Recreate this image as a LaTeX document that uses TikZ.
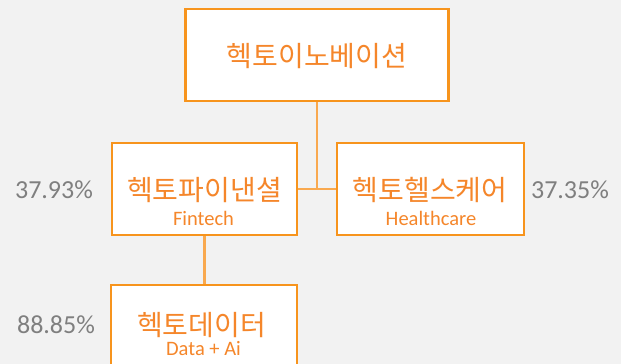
\documentclass[tikz,border=0pt]{standalone}
\usepackage{fontspec}
\setmainfont{Carlito}
\newfontfamily\kofont{Noto Sans CJK KR}
\definecolor{hkline}{HTML}{F7941D}
\definecolor{hklink}{HTML}{F9A94F}
\definecolor{hktext}{HTML}{F5862A}
\definecolor{hkgray}{HTML}{7F7F7F}
\definecolor{hkback}{HTML}{F2F2F2}
\begin{document}
\begin{tikzpicture}[x=1pt,y=-1pt,
    box/.style={draw=hkline,line width=2.6pt,fill=white,minimum width=#1,minimum height=92pt,inner sep=0pt},
    link/.style={draw=hklink,line width=2.2pt},
    kor/.style={anchor=base,text=hktext,font=\kofont\fontsize{28pt}{32pt}\selectfont,inner sep=0pt},
    eng/.style={anchor=base,text=hktext,font=\fontsize{20.5pt}{24pt}\selectfont,inner sep=0pt},
    pct/.style={anchor=base,text=hkgray,font=\fontsize{26pt}{30pt}\selectfont,inner sep=0pt}]
    \fill[hkback] (0,0) rectangle (621,364);
    \clip (0,0) rectangle (621,364);
    %	boxes
    \node[box=263pt] (hinno) at (317,55) {};
    \node[box=185pt] (hfin) at (204.5,189) {};
    \node[box=187pt] (hhealth) at (430.5,189) {};
    \node[box=186pt] (hdata) at (204,331) {};
    \draw[link] (hinno.south) |- (hfin.east);
    \draw[link] (hinno.south) |- (hhealth.west);
    \draw[link] (hfin.south) -- (hfin.south |- hdata.north);
    %	texts
    \node[kor] (hinno-t) at (317,66.5) {헥토이노베이션};
    \node[kor] (hfin-t) at (204.5,200.5) {헥토파이낸셜};
    \node[eng] (hfin-e) at (203.5,225) {Fintech};
    \node[kor] (hhealth-t) at (430,200.5) {헥토헬스케어};
    \node[eng] (hhealth-e) at (431,225) {Healthcare};
    \node[kor] (hdata-t) at (201.5,335.5) {헥토데이터};
    \node[eng] (hdata-e) at (203.5,355) {Data + Ai};
    \node[pct] (pfin) at (54,198) {37.93\%};
    \node[pct] (phealth) at (570,198) {37.35\%};
    \node[pct] (pdata) at (56,333) {88.85\%};
\end{tikzpicture}
\end{document}
